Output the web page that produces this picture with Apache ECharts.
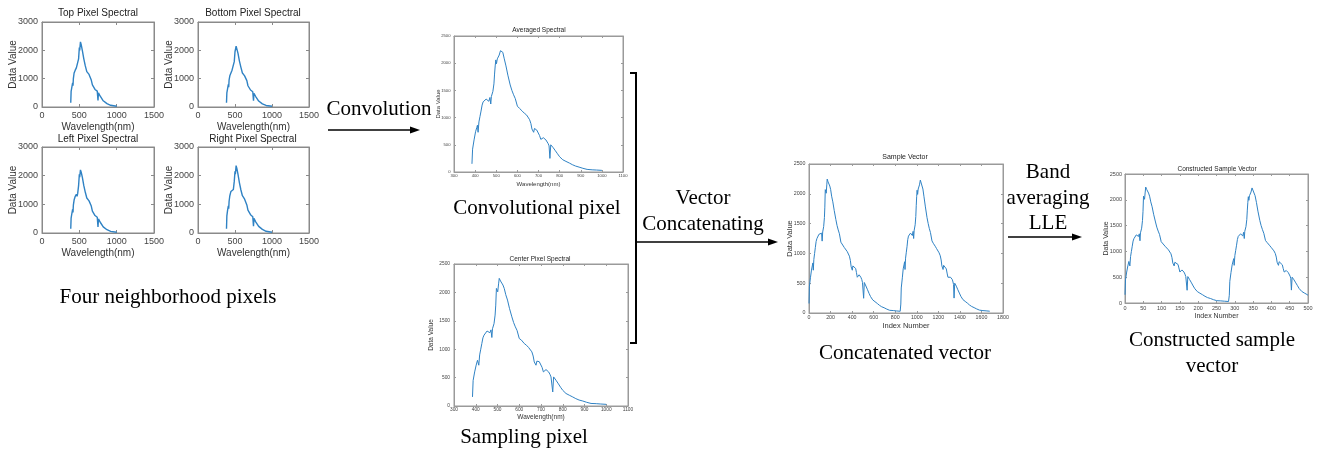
<!DOCTYPE html>
<html><head><meta charset="utf-8">
<script src="https://cdn.jsdelivr.net/npm/echarts@6/dist/echarts.min.js"></script>
<style>html,body{margin:0;padding:0;background:#fff}#c{width:1318px;height:459px}</style>
</head><body><div id="c"></div><script>
// ---------- DATA ----------
const topPixel = [[385,150],[390,550],[400,700],[410,850],[415,750],[420,1000],[430,1200],[445,1300],[460,1380],[470,1320],[478,1420],[490,1700],[500,2100],[505,2000],[515,2300],[525,2200],[540,2000],[560,1700],[580,1450],[600,1250],[630,1150],[660,950],[675,780],[690,800],[710,620],[740,560],[750,230],[756,500],[780,380],[820,220],[870,120],[920,60],[1000,25]];
const bottomPixel = [[385,150],[390,500],[400,650],[410,800],[415,700],[420,950],[430,1100],[445,1200],[460,1300],[470,1230],[478,1330],[490,1600],[500,1950],[505,1900],[515,2150],[525,2080],[540,1900],[560,1620],[580,1400],[600,1200],[630,1100],[660,930],[675,750],[690,770],[710,600],[740,540],[750,220],[756,480],[780,370],[820,210],[870,110],[920,55],[1000,25]];
const leftPixel = [[385,150],[390,520],[400,680],[410,820],[415,720],[420,970],[430,1150],[445,1280],[460,1350],[470,1280],[478,1380],[490,1650],[500,2050],[505,1950],[515,2200],[525,2120],[540,1950],[560,1650],[580,1420],[600,1220],[630,1120],[660,940],[675,760],[690,780],[710,610],[740,550],[750,210],[756,490],[780,375],[820,215],[870,115],[920,58],[1000,25]];
const rightPixel = [[385,150],[390,600],[400,800],[410,950],[415,850],[420,1100],[430,1300],[445,1450],[460,1500],[470,1420],[478,1520],[490,1800],[500,2150],[505,2050],[515,2350],[525,2250],[540,2050],[560,1750],[580,1500],[600,1300],[630,1180],[660,980],[675,800],[690,820],[710,640],[740,570],[750,240],[756,510],[780,390],[820,230],[870,125],[920,60],[1000,25]];

const spectralWl = [385,388,395,402,408,411,414,418,423,428,433,438,445,452,461,465,470,474,477,484,489,492,495,498,501,505,508,514,520,525,531,538,546,555,566,574,582,590,600,610,623,633,643,650,658,664,669,673,677,681,685,692,700,705,711,717,723,729,735,741,746,750,754,758,763,769,780,790,800,815,830,846,860,875,892,910,930,954,975,1000];
const centerVal = [160,450,600,720,805,840,718,900,1000,1100,1200,1247,1280,1320,1335,1290,1340,1206,1360,1450,1600,1776,2070,2090,2010,2150,2247,2200,2218,2130,2070,1960,1865,1720,1570,1470,1394,1330,1188,1160,1100,1070,1030,1000,953,880,776,800,718,790,806,780,747,680,600,620,641,610,600,560,512,480,247,512,490,453,390,330,276,220,190,159,130,105,88,65,45,41,35,29];
const avgVal = [150,420,590,740,820,860,730,920,1020,1120,1230,1290,1320,1340,1350,1300,1370,1250,1390,1480,1620,1800,1950,2060,1990,2080,2100,2150,2230,2250,2200,2080,1950,1780,1600,1500,1420,1350,1210,1170,1120,1080,1050,1010,960,890,790,810,730,800,790,770,740,670,600,615,630,600,590,560,520,480,250,500,480,450,390,335,280,225,195,165,135,110,90,68,48,40,36,30];

const sampleIndex = [0,4,14,23,32,36,40,45,52,59,66,73,83,92,105,110,117,122,127,136,143,147,151,155,160,165,169,177,186,193,201,210,221,234,249,260,271,282,296,309,327,341,355,364,375,384,391,396,402,407,413,422,433,440,448,457,465,473,481,490,496,502,507,513,520,528,543,557,571,591,612,634,653,674,697,722,749,782,811,846,
 852,856,866,874,883,887,891,896,903,910,916,923,933,942,954,959,966,971,976,985,991,995,999,1003,1008,1013,1017,1025,1033,1040,1048,1057,1067,1080,1095,1106,1116,1127,1141,1153,1171,1184,1198,1207,1218,1226,1233,1238,1244,1249,1255,1263,1274,1281,1289,1298,1305,1313,1321,1330,1336,1341,1346,1352,1359,1367,1381,1395,1409,1428,1449,1470,1489,1509,1532,1556,1582,1614,1643,1677];
const sampleValue = centerVal.concat(avgVal);

const constructedIndex = [0,1.4,4.6,7.8,10.6,12,13.3,15.2,17.5,19.8,22.1,24.4,27.6,30.8,35,36.8,39.1,40.9,42.3,45.5,47.8,49.2,50.6,52,53.4,55.2,56.6,59.3,62.1,64.4,67.2,70.4,74.1,78.2,83.3,86.9,90.6,94.3,98.9,103.5,109.5,114.1,118.7,121.9,125.6,128.3,130.6,132.5,134.3,136.2,138,141.2,144.9,147.2,150,152.7,155.5,158.2,161,163.8,166.1,167.9,169.7,171.6,173.9,176.6,181.7,186.3,190.9,197.8,204.7,212.1,218.5,225.4,233.2,241.5,250.7,261.7,271.4,282.9,
 285,286.4,289.6,292.8,295.6,297,298.3,300.2,302.5,304.8,307.1,309.4,312.6,315.8,320,321.8,324.1,325.9,327.3,330.5,332.8,334.2,335.6,337,338.4,340.2,341.6,344.3,347.1,349.4,352.2,355.4,359.1,363.2,368.3,371.9,375.6,379.3,383.9,388.5,394.5,399.1,403.7,406.9,410.6,413.3,415.6,417.5,419.3,421.2,423,426.2,429.9,432.2,435,437.7,440.5,443.2,446,448.8,451.1,452.9,454.7,456.6,458.9,461.6,466.7,471.3,475.9,482.8,489.7,497.1,500];
const constructedValue = centerVal.concat(avgVal.slice(0,72), [150]);

const zip = (xs, ys) => xs.map((x, i) => [x, ys[i]]);

// ---------- LAYOUT ----------
const SANS = '"Liberation Sans", Arial, sans-serif';
const SERIF = '"Liberation Serif", "Times New Roman", serif';
const LINE = '#2f82c4';

const small = {tickFs:9, nameFs:10, titleFs:10, xGap:15, yGap:24, xMargin:4, yMargin:4, tick:3, lw:1.4, border:'#8a8a8a'};
const panels = [
 Object.assign({}, small, {title:'Top Pixel Spectral', data:topPixel, g:[42,22,112,85], x:[0,1500,500], y:[0,3000,1000], xName:'Wavelength(nm)', tx:98, ty:13}),
 Object.assign({}, small, {title:'Bottom Pixel Spectral', data:bottomPixel, g:[198,22,111,85], x:[0,1500,500], y:[0,3000,1000], xName:'Wavelength(nm)', tx:253, ty:13}),
 Object.assign({}, small, {title:'Left Pixel Spectral', data:leftPixel, g:[42,147,112,86], x:[0,1500,500], y:[0,3000,1000], xName:'Wavelength(nm)', tx:98, ty:139}),
 Object.assign({}, small, {title:'Right Pixel Spectral', data:rightPixel, g:[198,147,111,86], x:[0,1500,500], y:[0,3000,1000], xName:'Wavelength(nm)', tx:253, ty:139}),
 {title:'Averaged Spectral', data:zip(spectralWl, avgVal), g:[454,36,169,136], x:[300,1100,100], y:[0,2500,500], xName:'Wavelength(nm)', tx:539, ty:30, tickFs:4.2, nameFs:6, titleFs:6.5, xGap:9, yGap:13, xMargin:2, yMargin:3.5, tick:2, lw:1, border:'#9a9a9a'},
 {title:'Center Pixel Spectral', data:zip(spectralWl, centerVal), g:[454,264,174,142], x:[300,1100,100], y:[0,2500,500], xName:'Wavelength(nm)', tx:540, ty:259, tickFs:4.8, nameFs:6.5, titleFs:6.5, xGap:7.5, yGap:19, xMargin:1.5, yMargin:4, tick:2, lw:1, border:'#9a9a9a'},
 {title:'Sample Vector', data:zip(sampleIndex, sampleValue), g:[809,164,194,149], x:[0,1800,200], y:[0,2500,500], xName:'Index Number', tx:905, ty:157, tickFs:5.3, nameFs:7.5, titleFs:7, xGap:8.5, yGap:15, xMargin:2, yMargin:3.5, tick:2, lw:1, border:'#9a9a9a'},
 {title:'Constructed Sample Vector', data:zip(constructedIndex, constructedValue), g:[1125,174,183,129], x:[0,500,50], y:[0,2500,500], xName:'Index Number', tx:1217, ty:169, tickFs:5.5, nameFs:7, titleFs:6.5, xGap:9.5, yGap:15.5, xMargin:2, yMargin:3, tick:2, lw:1, border:'#9a9a9a'}
];

const plain = v => String(v);
const grids = [], xAxes = [], yAxes = [], series = [], graphics = [];
panels.forEach((p, i) => {
  grids.push({left:p.g[0], top:p.g[1], width:p.g[2], height:p.g[3], show:true, borderColor:p.border, borderWidth:1, backgroundColor:'transparent', containLabel:false, outerBoundsMode:'none'});
  const tk = () => ({show:true, inside:true, length:p.tick, lineStyle:{color:p.border, width:1}});
  const ln = () => ({show:true, onZero:false, lineStyle:{color:p.border, width:1}});
  xAxes.push({gridIndex:i, type:'value', position:'bottom', min:p.x[0], max:p.x[1], interval:p.x[2],
    name:p.xName, nameLocation:'middle', nameGap:p.xGap, nameMoveOverlap:false, nameTextStyle:{fontSize:p.nameFs, color:'#333', fontFamily:SANS},
    axisLine:ln(), axisTick:tk(), splitLine:{show:false},
    axisLabel:{fontSize:p.tickFs, color:'#444', margin:p.xMargin, fontFamily:SANS, formatter:plain, showMinLabel:true, showMaxLabel:true, hideOverlap:false}});
  xAxes.push({gridIndex:i, type:'value', position:'top', min:p.x[0], max:p.x[1], interval:p.x[2],
    axisLine:ln(), axisTick:tk(), splitLine:{show:false}, axisLabel:{show:false}});
  yAxes.push({gridIndex:i, type:'value', position:'left', min:p.y[0], max:p.y[1], interval:p.y[2],
    name:'Data Value', nameLocation:'middle', nameGap:p.yGap, nameRotate:90, nameMoveOverlap:false, nameTextStyle:{fontSize:p.nameFs, color:'#333', fontFamily:SANS},
    axisLine:ln(), axisTick:tk(), splitLine:{show:false},
    axisLabel:{fontSize:p.tickFs, color:'#444', margin:p.yMargin, fontFamily:SANS, formatter:plain, showMinLabel:true, showMaxLabel:true, hideOverlap:false}});
  yAxes.push({gridIndex:i, type:'value', position:'right', min:p.y[0], max:p.y[1], interval:p.y[2],
    axisLine:ln(), axisTick:tk(), splitLine:{show:false}, axisLabel:{show:false}});
  series.push({type:'line', xAxisIndex:2*i, yAxisIndex:2*i, data:p.data, showSymbol:false, symbol:'none', silent:true,
    lineStyle:{color:LINE, width:p.lw}, animation:false});
  graphics.push({type:'text', x:p.tx, y:p.ty, silent:true,
    style:{text:p.title, textAlign:'center', textVerticalAlign:'middle', fill:'#222', font:p.titleFs + 'px ' + SANS}});
});

// annotation texts
const notes = [
 ['Four neighborhood pixels', 168, 297],
 ['Convolution', 379, 109],
 ['Convolutional pixel', 537, 208],
 ['Sampling pixel', 524, 437],
 ['Vector', 703, 198],
 ['Concatenating', 703, 224],
 ['Concatenated vector', 905, 353],
 ['Band', 1048, 172],
 ['averaging', 1048, 198],
 ['LLE', 1048, 223],
 ['Constructed sample', 1212, 340],
 ['vector', 1212, 366]
];
notes.forEach(n => graphics.push({type:'text', x:n[1], y:n[2], silent:true,
  style:{text:n[0], textAlign:'center', textVerticalAlign:'middle', fill:'#000', font:'21px ' + SERIF}}));

function arrow(x1, x2, y) {
  graphics.push({type:'line', silent:true, shape:{x1:x1, y1:y, x2:x2 - 7, y2:y}, style:{stroke:'#000', lineWidth:1.5}});
  graphics.push({type:'polygon', silent:true, shape:{points:[[x2 - 10, y - 3.5], [x2, y], [x2 - 10, y + 3.5]]}, style:{fill:'#000'}});
}
arrow(328, 420, 130);
arrow(636, 778, 242);
arrow(1008, 1082, 237);
// bracket
graphics.push({type:'polyline', silent:true, shape:{points:[[630,73],[636,73],[636,343],[630,343]]}, style:{stroke:'#000', lineWidth:2, fill:null}});

const chart = echarts.init(document.getElementById('c'), null, {renderer:'canvas'});
chart.setOption({
  animation:false,
  backgroundColor:'#fff',
  grid:grids, xAxis:xAxes, yAxis:yAxes, series:series, graphic:graphics
});
</script></body></html>
